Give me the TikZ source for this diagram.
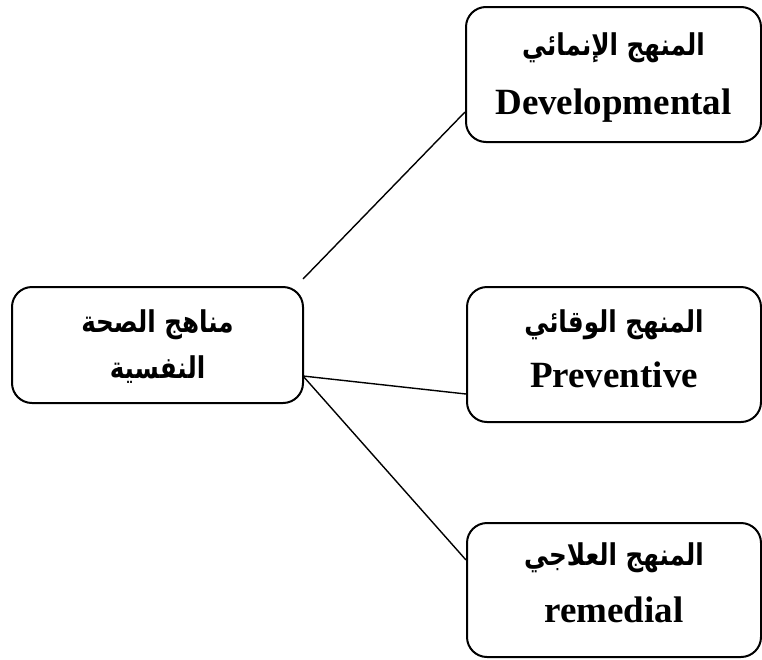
\documentclass[tikz,border=0pt]{standalone}
\usepackage{fontspec}
\setmainfont{Liberation Serif}
\newfontfamily\arabicfont[Script=Arabic, FakeStretch=0.82]{DejaVu Sans}
\TeXXeTstate=1
\usetikzlibrary{calc}

% Arabic line: right-to-left, bold
\newcommand{\ar}[1]{{\arabicfont\bfseries\fontsize{30}{46}\selectfont\beginR #1\endR}}
% Latin line: bold serif
\newcommand{\la}[1]{{\bfseries\fontsize{37}{57}\selectfont #1}}

\begin{document}
\begin{tikzpicture}[x=1pt,y=-1pt,
  box/.style={draw, line width=2pt, rounded corners=20pt, inner sep=0pt},
  label/.style={align=center, inner sep=0pt, anchor=base},
  link/.style={line width=1.4pt}]
\useasboundingbox (0,0) rectangle (762,659);

% central box
\node[box, minimum width=291pt, minimum height=116pt] (root) at (157.5,345) {};
\node[label] (root1) at ($(root.center)+(0,-13)$) {\ar{مناهج الصحة}};
\node[label] (root2) at ($(root.center)+(0,33)$) {\ar{النفسية}};

% the three approaches
\node[box, minimum width=295pt, minimum height=135pt] (dev) at (613.5,74.5) {};
\node[label] (dev1) at ($(dev.center)+(0,-19)$) {\ar{المنهج الإنمائي}};
\node[label] (dev2) at ($(dev.center)+(0,40)$) {\la{Developmental}};

\node[box, minimum width=294pt, minimum height=135pt] (prev) at (614,354.5) {};
\node[label] (prev1) at ($(prev.center)+(0,-22)$) {\ar{المنهج الوقائي}};
\node[label] (prev2) at ($(prev.center)+(0,33)$) {\la{Preventive}};

\node[box, minimum width=294pt, minimum height=134pt] (rem) at (614,590) {};
\node[label] (rem1) at ($(rem.center)+(0,-25)$) {\ar{المنهج العلاجي}};
\node[label] (rem2) at ($(rem.center)+(0,32)$) {\la{remedial}};

% connectors
\coordinate (top) at ($(root.east)+(-1,-66)$);
\coordinate (fork) at ($(root.east)+(-1,31)$);
\draw[link] (top) -- ($(dev.west)+(0,37.5)$);
\draw[link] (fork) -- ($(prev.west)+(0,39.5)$);
\draw[link] (fork) -- ($(rem.west)+(0,-30)$);
\end{tikzpicture}
\end{document}
